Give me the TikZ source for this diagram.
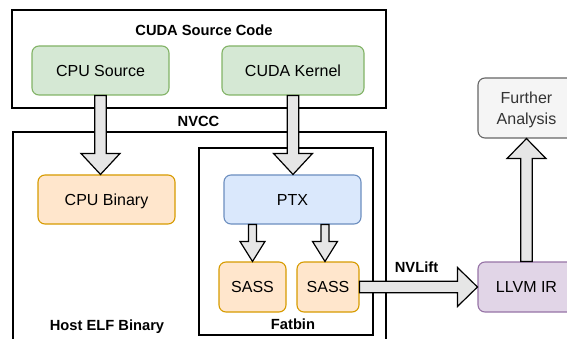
\documentclass[tikz,border=0pt]{standalone}
\usepackage{fontspec}
\setmainfont{Liberation Sans}
\usetikzlibrary{calc}
\definecolor{gfill}{HTML}{D5E8D4}\definecolor{gline}{HTML}{82B366}
\definecolor{ofill}{HTML}{FFE6CC}\definecolor{oline}{HTML}{D79B00}
\definecolor{bfill}{HTML}{DAE8FC}\definecolor{bline}{HTML}{6C8EBF}
\definecolor{pfill}{HTML}{E1D5E7}\definecolor{pline}{HTML}{9673A6}
\definecolor{kfill}{HTML}{F5F5F5}\definecolor{kline}{HTML}{666666}\definecolor{ktext}{HTML}{333333}
\definecolor{afill}{HTML}{E6E6E6}
\newcommand{\blockarrow}[5]{%
  \coordinate (ba-s) at (#1);
  \coordinate (ba-e) at (#2);
  \coordinate (ba-p) at ($(ba-e)!#5!(ba-s)$);
  \draw[blockarr] ($(ba-s)!#3!90:(ba-e)$) -- ($(ba-p)!#3!-90:(ba-s)$) -- ($(ba-p)!#4!-90:(ba-s)$) -- (ba-e) -- ($(ba-p)!#4!90:(ba-s)$) -- ($(ba-p)!#3!90:(ba-s)$) -- ($(ba-s)!#3!-90:(ba-e)$) -- cycle;
}
\tikzset{
  box/.style={draw, rounded corners=7pt, line width=1.1pt, minimum height=49pt, inner sep=0pt, font=\fontsize{16}{20}\selectfont},
  onebox/.style={box, text height=11.5pt, text depth=0pt},
  gbox/.style={onebox, fill=gfill, draw=gline},
  obox/.style={onebox, fill=ofill, draw=oline},
  bbox/.style={onebox, fill=bfill, draw=bline},
  pbox/.style={onebox, fill=pfill, draw=pline},
  kbox/.style={box, fill=kfill, draw=kline, text=ktext, align=center, font=\fontsize{16}{21}\selectfont},
  frame/.style={draw=black, line width=1.2pt},
  blabel/.style={font=\bfseries\fontsize{14.7}{17}\selectfont, inner sep=0pt, text height=10.5pt, text depth=0pt},
  blockarr/.style={draw=black, fill=afill, line width=1.2pt, line join=miter},
}
\begin{document}
\begin{tikzpicture}[x=1pt,y=-1pt]
\useasboundingbox (0,0) rectangle (567,339);
\clip (0,0) rectangle (567,339);
% frames
\draw[frame] (12,10) rectangle (386,108);
\draw[frame] (13,132) rectangle (386,360);
\draw[frame] (199,148) rectangle (373,335);
\node[blabel] (srclabel) at (204,30.5) {CUDA Source Code};
\node[blabel] (nvcc) at (198.5,121) {NVCC};
\node[blabel] (hostlabel) at (107,325) {Host ELF Binary};
\node[blabel] (fatlabel) at (293,324) {Fatbin};
\node[blabel] (nvlift) at (416.5,267) {NVLift};
% nodes
\node[gbox, minimum width=137pt] (cpusrc) at (100.5,70.5) {CPU Source};
\node[gbox, minimum width=142pt] (kernel) at (293,70.5) {CUDA Kernel};
\node[obox, minimum width=137pt] (cpubin) at (106.5,199.5) {CPU Binary};
\node[bbox, minimum width=137pt] (ptx) at (292.5,199.5) {PTX};
\node[obox, minimum width=67pt, minimum height=50pt] (sass1) at (252.5,287) {SASS};
\node[obox, minimum width=62pt, minimum height=50pt] (sass2) at (328,287) {SASS};
\node[pbox, minimum width=97pt, minimum height=50pt] (llvm) at (526.5,287) {LLVM IR};
\node[kbox, minimum width=97pt, minimum height=60pt] (further) at (526.5,108) {};
\node[text=ktext, font=\fontsize{16}{21}\selectfont, align=center, inner sep=0pt] (furthertext) at ($(further.center)+(0,2)$) {Further\\Analysis};
% arrows
\blockarrow{cpusrc.south}{cpusrc.south |- cpubin.north}{5.7pt}{19.5pt}{21pt}
\blockarrow{kernel.south}{kernel.south |- ptx.north}{5.7pt}{19.5pt}{21pt}
\blockarrow{sass1.north |- ptx.south}{sass1.north}{4pt}{12.5pt}{20pt}
\coordinate (a4) at ($(sass2.north)+(-3,0)$);
\blockarrow{a4 |- ptx.south}{a4}{4pt}{12.5pt}{20pt}
\blockarrow{sass2.east}{llvm.west}{5.7pt}{19.5pt}{20pt}
\blockarrow{llvm.north}{further.south}{5.7pt}{19.5pt}{20pt}
\end{tikzpicture}
\end{document}
